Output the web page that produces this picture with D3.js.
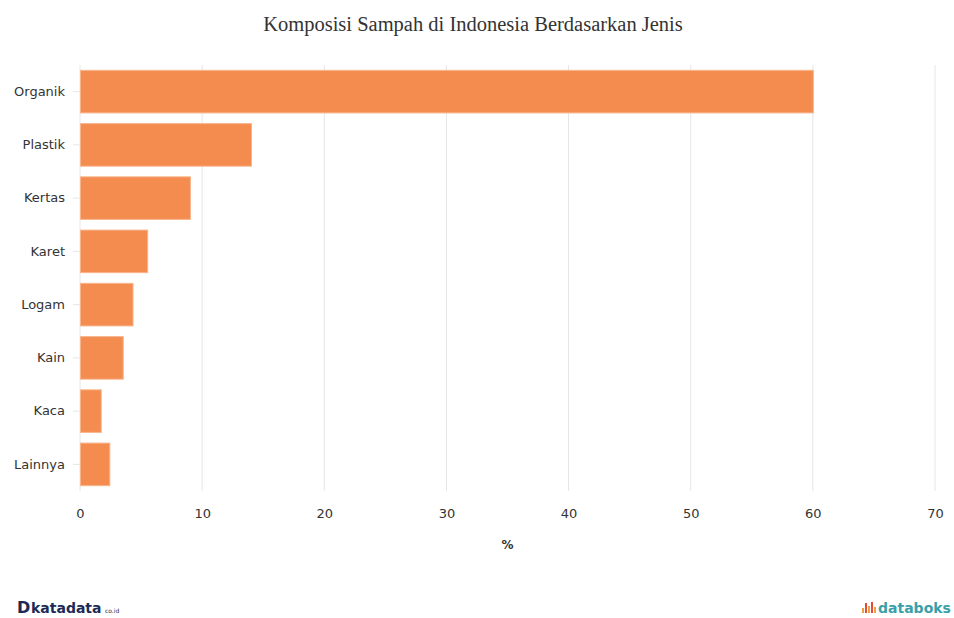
<!DOCTYPE html>
<html>
<head>
<meta charset="utf-8">
<script src="https://cdn.jsdelivr.net/npm/d3@7"></script>
<style>
  body { margin: 0; background: #fff; }
  svg { display: block; font-family: "DejaVu Sans", Verdana, sans-serif; }
</style>
</head>
<body>
<svg width="954" height="618"></svg>
<script>
var categories = ["Organik", "Plastik", "Kertas", "Karet", "Logam", "Kain", "Kaca", "Lainnya"];
var values = [60, 14, 9, 5.5, 4.3, 3.5, 1.7, 2.4];
var xTicks = [0, 10, 20, 30, 40, 50, 60, 70];
var title = "Komposisi Sampah di Indonesia Berdasarkan Jenis";
var xTitle = "%";

var data = categories.map(function(c, i) { return {cat: c, val: values[i]}; });

var svg = d3.select("svg"),
    margin = {top: 65, right: 19, bottom: 127, left: 80},
    width = +svg.attr("width") - margin.left - margin.right,
    height = +svg.attr("height") - margin.top - margin.bottom;

var x = d3.scaleLinear().domain([0, 70]).range([0, width]),
    y = d3.scaleBand().domain(categories).range([0, height]).paddingInner(0.2).paddingOuter(0.1);

var g = svg.append("g")
    .attr("transform", "translate(" + margin.left + "," + margin.top + ")");

// grid
g.append("g")
  .selectAll("line")
  .data(xTicks)
  .enter().append("line")
    .attr("x1", function(d) { return x(d); })
    .attr("x2", function(d) { return x(d); })
    .attr("y1", 0)
    .attr("y2", height)
    .attr("stroke", "#e6e6e6")
    .attr("stroke-width", 1);

// bars
g.append("g")
  .selectAll("rect")
  .data(data)
  .enter().append("rect")
    .attr("x", x(0) + 0.5)
    .attr("y", function(d) { return y(d.cat); })
    .attr("width", function(d) { return x(d.val) - x(0); })
    .attr("height", y.bandwidth())
    .attr("fill", "#f48c50")
    .attr("stroke", "#f8b58d")
    .attr("stroke-width", 1);

// y axis
var yAxis = g.append("g")
    .call(d3.axisLeft(y).tickSize(7).tickPadding(8))
    .attr("font-family", null);
yAxis.select(".domain").remove();
yAxis.selectAll(".tick line").attr("stroke", "#e6e6e6");
yAxis.selectAll(".tick text")
    .attr("x", -15)
    .attr("fill", "#333")
    .style("font-size", "13px");

// x axis
var xAxis = g.append("g")
    .attr("transform", "translate(0," + height + ")")
    .call(d3.axisBottom(x).tickValues(xTicks).tickSize(0).tickPadding(18))
    .attr("font-family", null);
xAxis.select(".domain").remove();
xAxis.selectAll(".tick text")
    .attr("fill", "#333")
    .style("font-size", "13px");

svg.append("text")
    .attr("x", margin.left + x(35))
    .attr("y", 549)
    .attr("text-anchor", "middle")
    .attr("fill", "#333")
    .style("font-size", "12px")
    .style("font-weight", "bold")
    .text(xTitle);

svg.append("text")
    .attr("x", 473)
    .attr("y", 31)
    .attr("text-anchor", "middle")
    .attr("fill", "#333")
    .style("font-family", "'Liberation Serif', 'DejaVu Serif', serif")
    .style("font-size", "20.5px")
    .text(title);

// footer logos
var kd = svg.append("g").attr("transform", "translate(17,601)");
kd.append("text")
    .attr("x", 0).attr("y", 12)
    .attr("fill", "#1c2a55")
    .style("font-size", "16px")
    .style("font-weight", "bold")
    .text("D");
kd.append("text")
    .attr("x", 14).attr("y", 12)
    .attr("fill", "#1c2a55")
    .style("font-size", "14px")
    .style("font-weight", "bold")
    .text("katadata");
kd.append("text")
    .attr("x", 88).attr("y", 12)
    .attr("fill", "#1c2a55")
    .style("font-size", "6px")
    .text("co.id");

var db = svg.append("g").attr("transform", "translate(862,601)");
var bars = [[0, 5, "#f0a040"], [3, 10, "#e84a3a"], [6, 7, "#f0a040"], [9, 11, "#e84a3a"], [12, 6, "#f0a040"]];
db.selectAll("rect")
  .data(bars)
  .enter().append("rect")
    .attr("x", function(d) { return d[0]; })
    .attr("y", function(d) { return 12 - d[1]; })
    .attr("width", 2)
    .attr("height", function(d) { return d[1]; })
    .attr("fill", function(d) { return d[2]; });
db.append("text")
    .attr("x", 16).attr("y", 12)
    .attr("fill", "#3aa0a8")
    .style("font-size", "14px")
    .style("font-weight", "bold")
    .text("databoks");
</script>
</body>
</html>
